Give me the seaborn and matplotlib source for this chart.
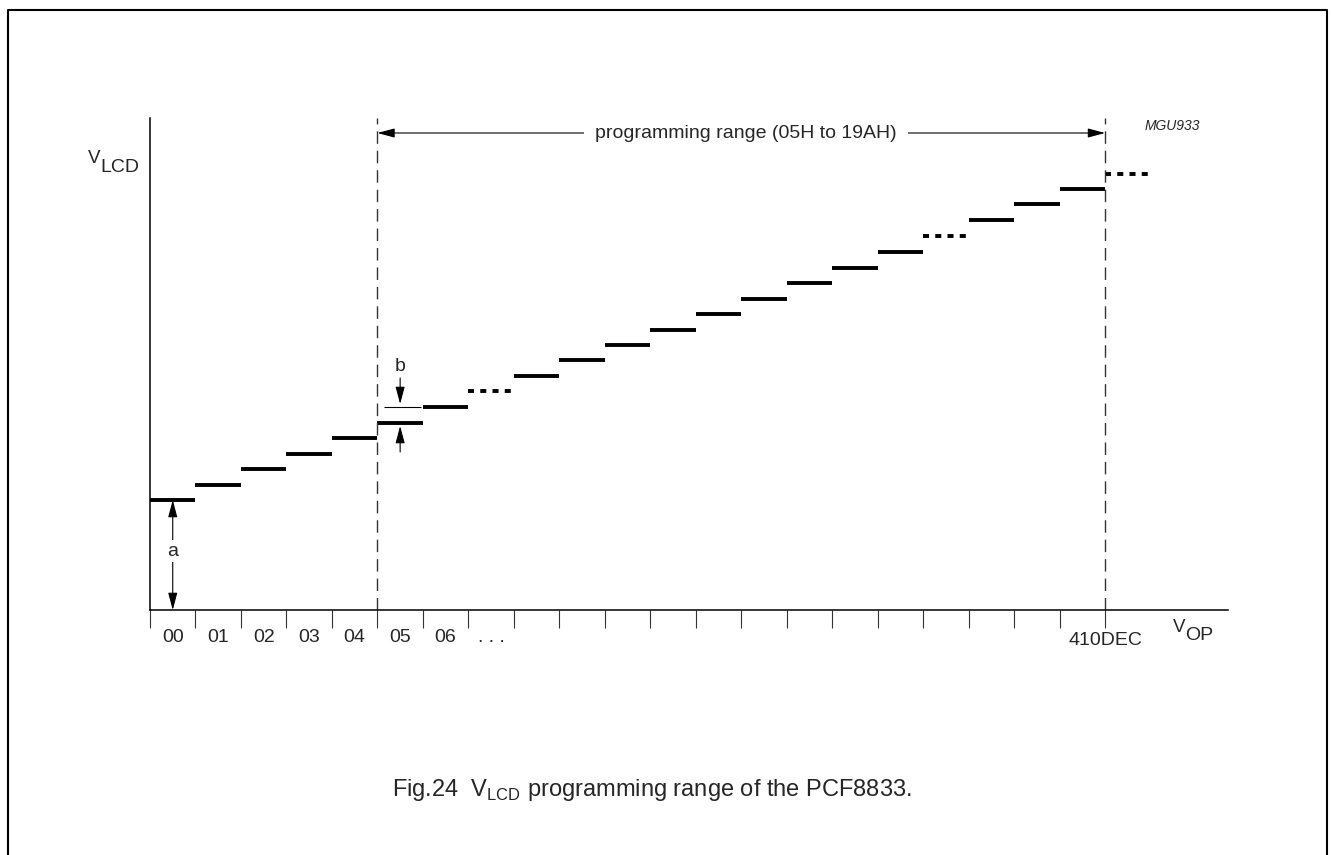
import pandas as pd
import seaborn as sns
import matplotlib.pyplot as plt

# V_LCD level of each V_OP step (arbitrary units)
steps = list(range(22))
levels = [110, 125, 141, 156, 172, 187, 203, 219, 234, 250, 265,
          280, 296, 311, 327, 342, 358, 374, 390, 406, 421, 436]
gap_steps = [7, 17, 21]          # steps drawn dotted (omitted part of range)
step_labels = ["00", "01", "02", "03", "04", "05", "06", ". . ."]
end_label = "410DEC"
range_start, range_end = 5, 21
range_text = "programming range (05H to 19AH)"

sns.set_theme(style="white")
plt.rcParams["font.family"] = ["Liberation Sans", "DejaVu Sans"]
plt.rcParams["mathtext.fontset"] = "custom"
plt.rcParams["mathtext.rm"] = "Liberation Sans"

rows = []
for k, lv in zip(steps, levels):
    kind = "gap" if k in gap_steps else "solid"
    rows.append({"vop": k, "vlcd": lv, "step": k, "kind": kind})
    rows.append({"vop": k + 1, "vlcd": lv, "step": k, "kind": kind})
seg = pd.DataFrame(rows)

W, H = 1331, 855
fig = plt.figure(figsize=(W / 100, H / 100), dpi=100)
ax = fig.add_axes([150 / W, (H - 610) / H, (1228 - 150) / W, 492 / H])

sns.lineplot(data=seg, x="vop", y="vlcd", units="step", estimator=None,
             style="kind", dashes={"solid": "", "gap": (1.55, 1.6)},
             color="black", linewidth=2.8, legend=False, sort=False, ax=ax)
for ln in ax.get_lines():
    ln.set_solid_capstyle("butt")

ax.set_xlim(0, 1078 / 45.48)
ax.set_ylim(0, 492)
ax.set_xlabel("")
ax.set_ylabel("")
ax.set_yticks([])
for s in ["top", "right"]:
    ax.spines[s].set_visible(False)
for s in ["left", "bottom"]:
    ax.spines[s].set_color("black")
    ax.spines[s].set_linewidth(1.1)

major_labels = [""] * len(steps)
major_labels[range_end] = end_label
ax.set_xticks(steps, major_labels)
ax.set_xticks([k + 0.5 for k in range(len(step_labels))], step_labels, minor=True)
ax.tick_params(axis="x", which="major", direction="out", length=13, width=0.8,
               color="#333333", pad=3, labelsize=14, bottom=True)
ax.tick_params(axis="x", which="minor", length=0, pad=14, labelsize=14, bottom=True)

# programming range boundaries
for xv in (range_start, range_end):
    ax.axvline(xv, color="#333333", lw=1.0, ls=(0, (9, 5)))

head = "head_length=0.75,head_width=0.2"
arrow_y = 477
ax.annotate("", xy=(range_start, arrow_y), xytext=(range_end, arrow_y),
            arrowprops=dict(arrowstyle="<|-|>," + head, color="black", lw=0.8,
                            shrinkA=0, shrinkB=0, mutation_scale=14))
ax.text((range_start + range_end) / 2 + 0.1, arrow_y, range_text, ha="center",
        va="center", fontsize=14, bbox=dict(fc="white", ec="none", pad=8))

# "a" : offset at step 00
ax.annotate("", xy=(0.5, 0), xytext=(0.5, levels[0]),
            arrowprops=dict(arrowstyle="<|-|>," + head, color="black", lw=0.8,
                            shrinkA=0, shrinkB=0, mutation_scale=14))
ax.text(0.5, levels[0] / 2 + 4, "a", ha="center", va="center", fontsize=14,
        bbox=dict(fc="white", ec="none", pad=2))

# "b" : one step
bx = range_start + 0.5
ax.hlines(levels[range_start + 1], range_start + 0.15, range_start + 0.95,
          color="black", lw=0.8)
ax.annotate("", xy=(bx, levels[range_start + 1] + 3), xytext=(bx, levels[range_start + 1] + 29),
            arrowprops=dict(arrowstyle="-|>," + head, color="black", lw=0.8,
                            shrinkA=0, shrinkB=0, mutation_scale=14))
ax.annotate("", xy=(bx, levels[range_start] - 3), xytext=(bx, levels[range_start] - 29),
            arrowprops=dict(arrowstyle="-|>," + head, color="black", lw=0.8,
                            shrinkA=0, shrinkB=0, mutation_scale=14))
ax.text(bx, levels[range_start + 1] + 41, "b", ha="center", va="center", fontsize=14)

# axis names
fig.text(94 / W, 1 - 158 / H, "V", ha="center", va="center", fontsize=13.5)
fig.text(120 / W, 1 - 167 / H, "LCD", ha="center", va="center", fontsize=14)
fig.text(1179 / W, 1 - 627 / H, "V", ha="center", va="center", fontsize=13.5)
fig.text(1199 / W, 1 - 636 / H, "OP", ha="center", va="center", fontsize=14)
fig.text(1172 / W, 1 - 126 / H, "MGU933", ha="center", va="center",
         fontsize=10, style="italic")

fig.text(652 / W, 1 - 790 / H,
         r"Fig.24  V$_{\mathregular{LCD}}$ programming range of the PCF8833.",
         ha="center", va="center", fontsize=17)

# page frame
fig.add_artist(plt.Line2D([8 / W, 8 / W, 1327 / W, 1327 / W],
                          [0, 1 - 10 / H, 1 - 10 / H, 0],
                          transform=fig.transFigure, color="black", lw=1.5))

fig.savefig("out.png", dpi=100, facecolor="white")
